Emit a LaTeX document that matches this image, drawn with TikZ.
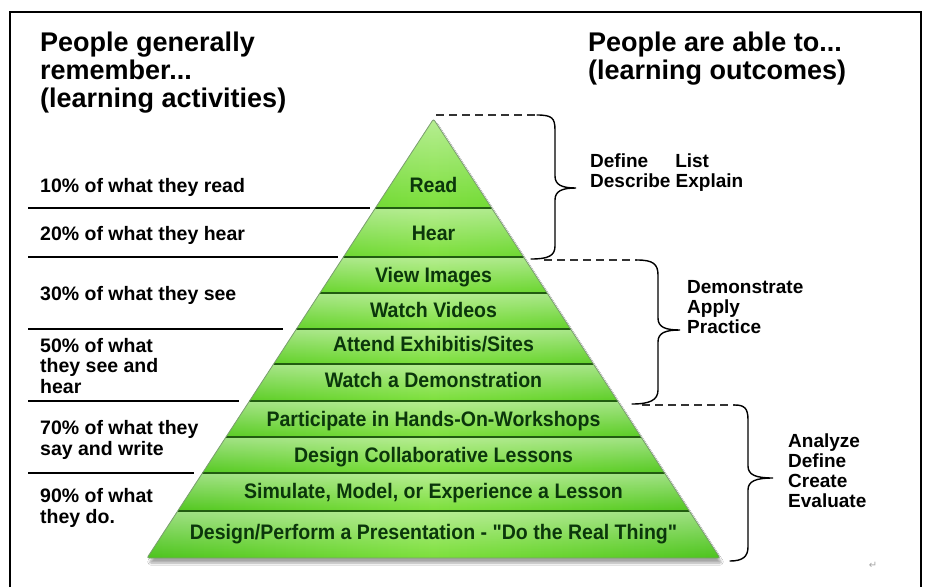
\documentclass[tikz,border=0pt]{standalone}
\usepackage{fontspec}
\setmainfont{Liberation Sans}[Ligatures=TeXOff]
\newfontfamily\bandfont{Liberation Sans}[FakeStretch=0.93, Ligatures=TeXOff]
\newfontfamily\symfont{DejaVu Sans}
\usetikzlibrary{fadings,shadows.blur}
\definecolor{pgedge}{HTML}{4CC41C}
\definecolor{pgmid}{HTML}{7CE03A}
\definecolor{pgline}{HTML}{215C10}
\definecolor{pgtext}{HTML}{0B360B}
\definecolor{dashgray}{HTML}{333333}
\begin{document}
\begin{tikzpicture}[x=1pt,y=-1pt,
  head/.style={font=\fontsize{27}{28}\selectfont\bfseries, align=left, anchor=base west, inner sep=0pt},
  lab/.style={font=\fontsize{19.5}{20.5}\selectfont\bfseries, align=left, anchor=base west, inner sep=0pt},
  outc/.style={font=\fontsize{19}{19.7}\selectfont\bfseries, align=left, anchor=base west, inner sep=0pt},
  band/.style={font=\bandfont\fontsize{21}{21}\selectfont\bfseries, text=pgtext, anchor=base, inner sep=0pt},
  sepline/.style={line width=2.2pt, black},
  bandline/.style={line width=1.5pt, pgline},
  bracestyle/.style={line width=1.4pt, black, line cap=round},
  dashstyle/.style={line width=1.8pt, dashgray, dash pattern=on 8pt off 5pt}]
\useasboundingbox (0,0) rectangle (926,587);
\fill[white] (0,0) rectangle (926,587);
% frame
\draw[line width=1.1pt] (10,587) -- (10,12) -- (921,12) -- (921,587);

% headers (anchor = baseline of the last line)
\node[head] (hleft) at (40,107) {People generally\\remember...\\(learning activities)};
\node[head] (hright) at (588,79) {People are able to...\\(learning outcomes)};

% pyramid
\coordinate (apex) at (433.5,119);
\coordinate (bl) at (147,558);
\coordinate (br) at (720,558);
\path[left color=pgedge, right color=pgedge, middle color=pgmid, rounded corners=2pt,
  blur shadow={shadow xshift=2pt, shadow yshift=-5pt, shadow opacity=35, shadow blur steps=8}]
  (apex) -- (br) -- (bl) -- cycle;
\foreach \yt/\yb in {119/208,208/257,257/293,293/329,329/364,364/401,401/437,437/473,473/511,511/558} {
  \pgfmathsetmacro\xlt{433.5-0.6526*(\yt-119)}
  \pgfmathsetmacro\xrt{433.5+0.6526*(\yt-119)}
  \pgfmathsetmacro\xlb{433.5-0.6526*(\yb-119)}
  \pgfmathsetmacro\xrb{433.5+0.6526*(\yb-119)}
  \fill[white, fill opacity=0.45, path fading=south] (\xlt,\yt) -- (\xrt,\yt) -- (\xrb,\yb) -- (\xlb,\yb) -- cycle;
}
\foreach \y in {208,257,293,329,364,401,437,473,511} {
  \pgfmathsetmacro\xl{433.5-0.6526*(\y-119)}
  \pgfmathsetmacro\xr{433.5+0.6526*(\y-119)}
  \draw[bandline] (\xl,\y) -- (\xr,\y);
}
\draw[line width=0.8pt, pgline!60, rounded corners=2pt] (apex) -- (br) -- (bl) -- cycle;

% band labels
\node[band] (b1) at (433.5,192) {Read};
\node[band] (b2) at (433.5,240) {Hear};
\node[band] (b3) at (433.5,282) {View Images};
\node[band] (b4) at (433.5,317) {Watch Videos};
\node[band] (b5) at (433.5,351) {Attend Exhibitis/Sites};
\node[band] (b6) at (433.5,387) {Watch a Demonstration};
\node[band] (b7) at (433.5,426) {Participate in Hands-On-Workshops};
\node[band] (b8) at (433.5,462) {Design Collaborative Lessons};
\node[band] (b9) at (433.5,498) {Simulate, Model, or Experience a Lesson};
\node[band] (b10) at (433.5,539) {Design/Perform a Presentation - "Do the Real Thing"};

% left labels
\node[lab] (l1) at (40,192) {10\% of what they read};
\node[lab] (l2) at (40,240) {20\% of what they hear};
\node[lab] (l3) at (40,300) {30\% of what they see};
\node[lab] (l4) at (40,393) {50\% of what\\they see and\\hear};
\node[lab] (l5) at (40,455) {70\% of what they\\say and write};
\node[lab] (l6) at (40,523) {90\% of what\\they do.};

% left separators
\draw[sepline] (28,208) -- (370,208);
\draw[sepline] (28,257) -- (338,257);
\draw[sepline] (28,329) -- (283,329);
\draw[sepline] (28,401) -- (239,401);
\draw[sepline] (28,473) -- (194,473);

% outcomes
\node[outc] (o1) at (590,187) {Define\hspace{27pt}List\\Describe Explain};
\node[outc] (o2) at (687,333) {Demonstrate\\Apply\\Practice};
\node[outc] (o3) at (788,507) {Analyze\\Define\\Create\\Evaluate};

% dashed leaders and braces
\coordinate (d1s) at (436,115); \coordinate (t1) at (537,115); \coordinate (tip1) at (576,188); \coordinate (e1) at (531,259);
\coordinate (d2s) at (544,260); \coordinate (t2) at (637,260); \coordinate (tip2) at (680,330); \coordinate (e2) at (632,404);
\coordinate (d3s) at (642,405); \coordinate (t3) at (735,405); \coordinate (tip3) at (773,478); \coordinate (e3) at (730,561);
\draw[dashstyle] (d1s) -- (t1);
\draw[dashstyle] (d2s) -- (t2);
\draw[dashstyle] (d3s) -- (t3);
\draw[bracestyle] (t1) .. controls (552,115) and (555,118) .. (555,130) -- (555,176)
  .. controls (555,185) and (562,188) .. (tip1) .. controls (562,188) and (555,191) .. (555,200)
  -- (555,246) .. controls (555,256) and (548,259) .. (e1);
\draw[bracestyle] (t2) .. controls (653,260) and (658,264) .. (658,275) -- (658,318)
  .. controls (658,327) and (665,330) .. (tip2) .. controls (665,330) and (658,333) .. (658,342)
  -- (658,390) .. controls (658,400) and (650,404) .. (e2);
\draw[bracestyle] (t3) .. controls (745,405) and (748,409) .. (748,420) -- (748,466)
  .. controls (748,475) and (756,478) .. (tip3) .. controls (756,478) and (748,481) .. (748,490)
  -- (748,547) .. controls (748,557) and (742,561) .. (e3);

% paragraph mark
\node[font=\symfont\fontsize{10}{10}\selectfont, text=gray!70, inner sep=0pt] (pm) at (873,565) {↵};
\end{tikzpicture}
\end{document}
